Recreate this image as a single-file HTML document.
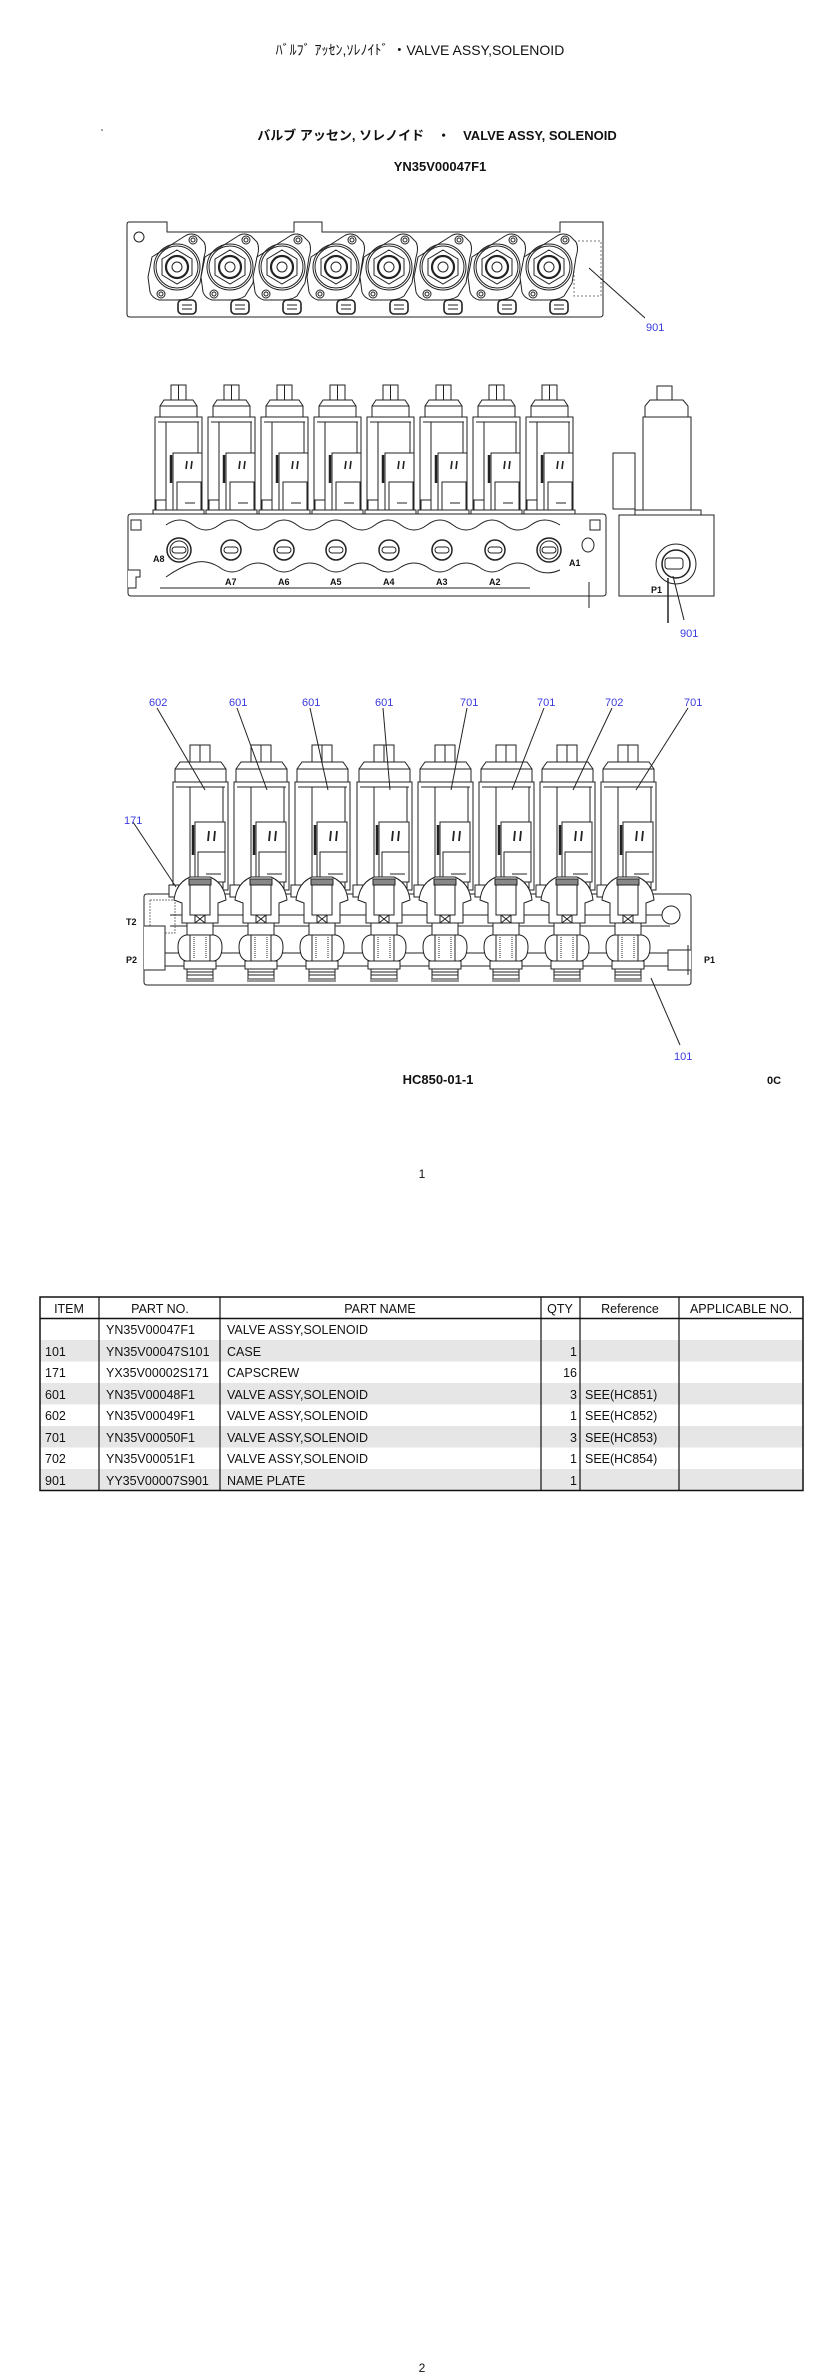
<!DOCTYPE html>
<html><head><meta charset="utf-8"><style>
html,body{margin:0;padding:0;background:#fff}
svg{display:block}
text{font-family:"Liberation Sans","Noto Sans CJK JP",sans-serif}
.b{fill:#3a3ae0;font-size:11px}
.k{fill:#111;font-size:9px;font-weight:bold}
.t{font-family:"Liberation Sans Narrow","Liberation Sans",sans-serif;font-size:12.5px;fill:#111}
</style></head><body>
<svg width="840" height="2377" viewBox="0 0 840 2377" xmlns="http://www.w3.org/2000/svg">
<defs>
<g id="top" fill="none" stroke="#222" stroke-width="1">
  <path d="M-25,-10 L8,-31 Q14,-35 21,-31 L27,-25 Q30,-19 27,-10 L23,16 L15,29 Q10,33 0,33 L-18,33 Q-25,31 -27,25 L-29,10 Z" fill="#fff"/>
  <circle cx="16" cy="-27" r="4"/><circle cx="16" cy="-27" r="2"/>
  <circle cx="-16" cy="27" r="4"/><circle cx="-16" cy="27" r="2"/>
  <circle r="23"/><circle r="21"/>
  <path d="M0,-17 L15,-8 L15,8 L0,17 L-15,8 L-15,-8 Z"/>
  <circle r="11" stroke-width="2.2"/><circle r="5"/>
  <rect x="1" y="33" width="18" height="14" rx="4" stroke-width="1.6" fill="#fff"/>
  <line x1="5" y1="38" x2="15" y2="38"/><line x1="5" y1="42" x2="15" y2="42"/>
</g>
<g id="mid" fill="#fff" stroke="#222" stroke-width="1">
  <rect x="16" y="0" width="15" height="15"/>
  <line x1="23.5" y1="0" x2="23.5" y2="15"/>
  <path d="M5,32 L5,21 L9,15 L38,15 L42,21 L42,32 Z"/>
  <line x1="5" y1="21" x2="42" y2="21"/>
  <rect x="0" y="32" width="47" height="94"/>
  <line x1="3" y1="37" x2="44" y2="37"/>
  <line x1="11" y1="37" x2="11" y2="126"/><line x1="43" y1="37" x2="43" y2="126"/>
  <rect x="18" y="68" width="29" height="57"/>
  <line x1="16" y1="70" x2="16" y2="98" stroke-width="2.5"/>
  <rect x="22" y="97" width="24" height="28"/>
  <line x1="32" y1="76" x2="31" y2="84" stroke-width="1.6"/><line x1="37" y1="76" x2="36" y2="84" stroke-width="1.6"/>
  <line x1="30" y1="118" x2="40" y2="118"/>
  <rect x="1" y="115" width="10" height="10"/>
  <rect x="-2" y="125" width="51" height="4"/>
</g>
<g id="bot" fill="#fff" stroke="#222" stroke-width="1">
  <rect x="17" y="0" width="20" height="17"/>
  <line x1="27" y1="0" x2="27" y2="17"/>
  <path d="M2,37 L2,24 L7,17 L48,17 L53,24 L53,37 Z"/>
  <line x1="2" y1="24" x2="53" y2="24"/>
  <rect x="0" y="37" width="55" height="108"/>
  <line x1="3" y1="42" x2="52" y2="42"/>
  <line x1="17" y1="42" x2="17" y2="145"/><line x1="50" y1="42" x2="50" y2="145"/>
  <rect x="22" y="77" width="30" height="58"/>
  <line x1="20" y1="80" x2="20" y2="110" stroke-width="2.5"/>
  <rect x="25" y="107" width="27" height="30"/>
  <line x1="36" y1="86" x2="35" y2="96" stroke-width="1.8"/><line x1="42" y1="86" x2="41" y2="96" stroke-width="1.8"/>
  <line x1="33" y1="129" x2="48" y2="129"/>
  <rect x="-4" y="140" width="12" height="12"/>
</g>
<g id="cart" fill="#fff" stroke="#222" stroke-width="1">
  <path d="M-26,17 Q-24,0 -10,-6 L10,-6 Q24,0 26,17 L18,20 L18,40 L-18,40 L-18,20 Z"/>
  <rect x="-11" y="-4" width="22" height="6" fill="#888"/>
  <rect x="-10" y="2" width="20" height="30"/>
  <rect x="-5" y="32" width="10" height="8"/>
  <line x1="-5" y1="32" x2="5" y2="40"/><line x1="5" y1="32" x2="-5" y2="40"/>
  <rect x="-13" y="40" width="26" height="12"/>
  <path d="M-14,52 Q-22,54 -22,64 Q-22,76 -14,78 L14,78 Q22,76 22,64 Q22,54 14,52 Z"/>
  <rect x="-10" y="52" width="20" height="26"/>
  <line x1="-6" y1="54" x2="-6" y2="76" stroke-dasharray="1,1"/><line x1="6" y1="54" x2="6" y2="76" stroke-dasharray="1,1"/>
  <rect x="-16" y="78" width="32" height="8"/>
  <rect x="-13" y="86" width="26" height="10"/>
  <line x1="-13" y1="89" x2="13" y2="89"/><line x1="-13" y1="92" x2="13" y2="92"/>
  <rect x="-14" y="96" width="28" height="3" fill="#999" stroke="none"/>
</g>
</defs>

<text x="420" y="55" text-anchor="middle" font-size="14" font-family="Liberation Sans Narrow, Liberation Sans, Noto Sans CJK JP, sans-serif" fill="#111">ﾊﾞﾙﾌﾞ ｱｯｾﾝ,ｿﾚﾉｲﾄﾞ ・VALVE ASSY,SOLENOID</text>
<circle cx="102" cy="130" r="0.8" fill="#333"/>
<text x="437" y="140" text-anchor="middle" font-size="13" font-weight="bold" fill="#111">バルブ アッセン, ソレノイド　・　VALVE ASSY, SOLENOID</text>
<text x="440" y="171" text-anchor="middle" font-size="13" font-weight="bold" fill="#111">YN35V00047F1</text>

<!-- TOP VIEW -->
<g fill="none" stroke="#222" stroke-width="1">
<path d="M129,222 L167,222 L167,232 L294,232 L294,222 L322,222 L322,232 L560,232 L560,222 L603,222 L603,314 Q603,317 600,317 L130,317 Q127,317 127,314 L127,225 Q127,222 129,222 Z"/>
<circle cx="139" cy="237" r="5"/>
<rect x="574" y="241" width="27" height="55" stroke-dasharray="2,2" stroke="#777"/>
</g>
<use href="#top" x="177" y="267"/><use href="#top" x="230" y="267"/><use href="#top" x="282" y="267"/><use href="#top" x="336" y="267"/>
<use href="#top" x="389" y="267"/><use href="#top" x="443" y="267"/><use href="#top" x="497" y="267"/><use href="#top" x="549" y="267"/>
<line x1="589" y1="268" x2="645" y2="318" stroke="#222"/>
<text class="b" x="646" y="331">901</text>

<!-- MIDDLE VIEW -->
<g fill="#fff" stroke="#222" stroke-width="1">
<path d="M131,514 L603,514 Q606,514 606,517 L606,593 Q606,596 603,596 L131,596 Q128,596 128,593 L128,517 Q128,514 131,514 Z"/>
<path d="M166,525 Q180,515 193,525 Q206,535 219,525 Q232,515 245,525 Q258,535 271,525 Q284,515 297,525 Q310,535 323,525 Q336,515 349,525 Q362,535 375,525 Q388,515 401,525 Q414,535 427,525 Q440,515 453,525 Q466,535 479,525 Q492,515 505,525 Q518,535 531,525 Q544,515 560,525"/>
<path d="M166,577 Q180,567 193,563 Q206,559 219,567 Q232,577 245,567 Q258,559 271,567 Q284,577 297,567 Q310,559 323,567 Q336,577 349,567 Q362,559 375,567 Q388,577 401,567 Q414,559 427,567 Q440,577 453,567 Q466,559 479,567 Q492,577 505,567 Q518,559 531,567 Q544,577 560,570"/>
<line x1="160" y1="588" x2="530" y2="588"/>
<path d="M128,570 L140,570 L140,577 L136,577 L136,588 L128,588"/>
<rect x="131" y="520" width="10" height="10"/>
<rect x="590" y="520" width="10" height="10"/>
<ellipse cx="588" cy="545" rx="6" ry="7"/>
<line x1="589" y1="582" x2="589" y2="608"/>
</g>
<use href="#mid" x="155" y="385"/><use href="#mid" x="208" y="385"/><use href="#mid" x="261" y="385"/><use href="#mid" x="314" y="385"/>
<use href="#mid" x="367" y="385"/><use href="#mid" x="420" y="385"/><use href="#mid" x="473" y="385"/><use href="#mid" x="526" y="385"/>
<g fill="#fff" stroke="#222" stroke-width="1">
<circle cx="179" cy="550" r="12" stroke-width="1.5"/><circle cx="179" cy="550" r="9"/><rect x="172" y="547" width="14" height="6" rx="3"/>
<circle cx="231" cy="550" r="10" stroke-width="1.5"/><rect x="224" y="547" width="14" height="6" rx="3"/>
<circle cx="284" cy="550" r="10" stroke-width="1.5"/><rect x="277" y="547" width="14" height="6" rx="3"/>
<circle cx="336" cy="550" r="10" stroke-width="1.5"/><rect x="329" y="547" width="14" height="6" rx="3"/>
<circle cx="389" cy="550" r="10" stroke-width="1.5"/><rect x="382" y="547" width="14" height="6" rx="3"/>
<circle cx="442" cy="550" r="10" stroke-width="1.5"/><rect x="435" y="547" width="14" height="6" rx="3"/>
<circle cx="495" cy="550" r="10" stroke-width="1.5"/><rect x="488" y="547" width="14" height="6" rx="3"/>
<circle cx="549" cy="550" r="12" stroke-width="1.5"/><circle cx="549" cy="550" r="9"/><rect x="542" y="547" width="14" height="6" rx="3"/>
</g>
<text class="k" x="153" y="562">A8</text>
<text class="k" x="225" y="585">A7</text><text class="k" x="278" y="585">A6</text><text class="k" x="330" y="585">A5</text>
<text class="k" x="383" y="585">A4</text><text class="k" x="436" y="585">A3</text><text class="k" x="489" y="585">A2</text>
<text class="k" x="569" y="566">A1</text>
<!-- right block -->
<g fill="#fff" stroke="#222" stroke-width="1">
<rect x="657" y="386" width="15" height="14"/>
<path d="M645,417 L645,406 L650,400 L683,400 L688,406 L688,417 Z"/>
<rect x="643" y="417" width="48" height="94"/>
<rect x="613" y="453" width="22" height="56"/>
<rect x="635" y="510" width="66" height="5"/>
<rect x="619" y="515" width="95" height="81"/>
<circle cx="676" cy="564" r="20"/><circle cx="676" cy="564" r="14" stroke-width="1.5"/>
<rect x="665" y="558" width="18" height="11" rx="3"/>
<line x1="668" y1="578" x2="668" y2="623" stroke-width="1.5"/>
<line x1="673" y1="576" x2="684" y2="620"/>
</g>
<text class="k" x="651" y="593">P1</text>
<text class="b" x="680" y="637">901</text>

<!-- BOTTOM VIEW -->
<g fill="#fff" stroke="#222" stroke-width="1">
<path d="M147,894 L688,894 Q691,894 691,897 L691,982 Q691,985 688,985 L147,985 Q144,985 144,982 L144,897 Q144,894 147,894 Z"/>
<rect x="150" y="900" width="25" height="33" stroke-dasharray="2,1" stroke="#777"/>
<path d="M144,926 L165,926 L165,970 L144,970"/>
<line x1="170" y1="915" x2="670" y2="915"/>
<line x1="170" y1="926" x2="670" y2="926"/>
<line x1="165" y1="953" x2="670" y2="953"/>
<line x1="165" y1="966" x2="670" y2="966"/>
<path d="M691,950 L668,950 L668,970 L691,970"/>
<line x1="688" y1="945" x2="688" y2="975"/>
<circle cx="671" cy="915" r="9"/>
</g>
<use href="#bot" x="173" y="745"/><use href="#bot" x="234" y="745"/><use href="#bot" x="295" y="745"/><use href="#bot" x="357" y="745"/>
<use href="#bot" x="418" y="745"/><use href="#bot" x="479" y="745"/><use href="#bot" x="540" y="745"/><use href="#bot" x="601" y="745"/>
<use href="#cart" x="200" y="883"/><use href="#cart" x="261" y="883"/><use href="#cart" x="322" y="883"/><use href="#cart" x="384" y="883"/>
<use href="#cart" x="445" y="883"/><use href="#cart" x="506" y="883"/><use href="#cart" x="567" y="883"/><use href="#cart" x="628" y="883"/>
<g stroke="#222" stroke-width="1">
<line x1="157" y1="708" x2="205" y2="790"/>
<line x1="237" y1="708" x2="267" y2="790"/>
<line x1="310" y1="708" x2="328" y2="790"/>
<line x1="383" y1="708" x2="390" y2="790"/>
<line x1="467" y1="708" x2="451" y2="790"/>
<line x1="544" y1="708" x2="512" y2="790"/>
<line x1="612" y1="708" x2="573" y2="790"/>
<line x1="688" y1="708" x2="636" y2="790"/>
<line x1="133" y1="822" x2="176" y2="887"/>
<line x1="651" y1="978" x2="680" y2="1045"/>
</g>
<text class="b" x="149" y="706">602</text><text class="b" x="229" y="706">601</text><text class="b" x="302" y="706">601</text><text class="b" x="375" y="706">601</text>
<text class="b" x="460" y="706">701</text><text class="b" x="537" y="706">701</text><text class="b" x="605" y="706">702</text><text class="b" x="684" y="706">701</text>
<text class="b" x="124" y="824">171</text>
<text class="k" x="126" y="925">T2</text><text class="k" x="126" y="963">P2</text><text class="k" x="704" y="963">P1</text>
<text class="b" x="674" y="1060">101</text>
<text x="438" y="1084" text-anchor="middle" font-size="13" font-weight="bold" fill="#111">HC850-01-1</text>
<text x="774" y="1084" text-anchor="middle" font-size="11" font-weight="bold" fill="#111">0C</text>
<text x="422" y="1178" text-anchor="middle" font-size="12" fill="#111">1</text>

<!-- TABLE -->
<g>
<rect x="40" y="1340" width="763" height="21.5" fill="#e6e6e6"/>
<rect x="40" y="1383" width="763" height="21.5" fill="#e6e6e6"/>
<rect x="40" y="1426" width="763" height="21.5" fill="#e6e6e6"/>
<rect x="40" y="1469" width="763" height="21.5" fill="#e6e6e6"/>
<rect x="40" y="1297" width="763" height="193.5" fill="none" stroke="#111" stroke-width="1.5"/>
<line x1="40" y1="1318.5" x2="803" y2="1318.5" stroke="#111" stroke-width="1.5"/>
<g stroke="#111" stroke-width="1.2">
<line x1="99" y1="1297" x2="99" y2="1490"/><line x1="220" y1="1297" x2="220" y2="1490"/>
<line x1="541" y1="1297" x2="541" y2="1490"/><line x1="580" y1="1297" x2="580" y2="1490"/>
<line x1="679" y1="1297" x2="679" y2="1490"/>
</g>
<text class="t" x="69" y="1313" text-anchor="middle">ITEM</text>
<text class="t" x="160" y="1313" text-anchor="middle">PART NO.</text>
<text class="t" x="380" y="1313" text-anchor="middle">PART NAME</text>
<text class="t" x="560" y="1313" text-anchor="middle">QTY</text>
<text class="t" x="630" y="1313" text-anchor="middle">Reference</text>
<text class="t" x="741" y="1313" text-anchor="middle">APPLICABLE NO.</text>

<text class="t" x="106" y="1334">YN35V00047F1</text><text class="t" x="227" y="1334">VALVE ASSY,SOLENOID</text>
<text class="t" x="45" y="1356">101</text><text class="t" x="106" y="1356">YN35V00047S101</text><text class="t" x="227" y="1356">CASE</text><text class="t" x="577" y="1356" text-anchor="end">1</text>
<text class="t" x="45" y="1377">171</text><text class="t" x="106" y="1377">YX35V00002S171</text><text class="t" x="227" y="1377">CAPSCREW</text><text class="t" x="577" y="1377" text-anchor="end">16</text>
<text class="t" x="45" y="1399">601</text><text class="t" x="106" y="1399">YN35V00048F1</text><text class="t" x="227" y="1399">VALVE ASSY,SOLENOID</text><text class="t" x="577" y="1399" text-anchor="end">3</text><text class="t" x="585" y="1399">SEE(HC851)</text>
<text class="t" x="45" y="1420">602</text><text class="t" x="106" y="1420">YN35V00049F1</text><text class="t" x="227" y="1420">VALVE ASSY,SOLENOID</text><text class="t" x="577" y="1420" text-anchor="end">1</text><text class="t" x="585" y="1420">SEE(HC852)</text>
<text class="t" x="45" y="1442">701</text><text class="t" x="106" y="1442">YN35V00050F1</text><text class="t" x="227" y="1442">VALVE ASSY,SOLENOID</text><text class="t" x="577" y="1442" text-anchor="end">3</text><text class="t" x="585" y="1442">SEE(HC853)</text>
<text class="t" x="45" y="1463">702</text><text class="t" x="106" y="1463">YN35V00051F1</text><text class="t" x="227" y="1463">VALVE ASSY,SOLENOID</text><text class="t" x="577" y="1463" text-anchor="end">1</text><text class="t" x="585" y="1463">SEE(HC854)</text>
<text class="t" x="45" y="1485">901</text><text class="t" x="106" y="1485">YY35V00007S901</text><text class="t" x="227" y="1485">NAME PLATE</text><text class="t" x="577" y="1485" text-anchor="end">1</text>
</g>

<text x="422" y="2372" text-anchor="middle" font-size="12" fill="#111">2</text>
</svg>
</body></html>
